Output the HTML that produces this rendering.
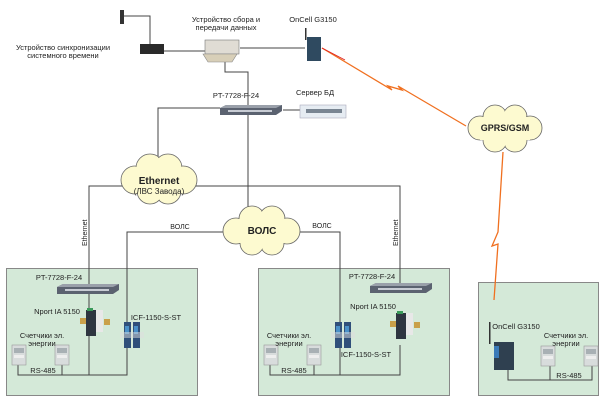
<!DOCTYPE html>
<html><head><meta charset="utf-8"><style>
html,body{margin:0;padding:0;background:#fff;width:600px;height:402px;overflow:hidden}
text{font-family:"Liberation Sans",sans-serif;fill:#222}
</style></head><body>
<svg width="600" height="402" viewBox="0 0 600 402" xmlns="http://www.w3.org/2000/svg">
<defs>
<g id="sw"><path d="M0,3 L6,0 L62,0 L62,6 L56,10 L0,10 Z" fill="#5b6270"/><path d="M0,3 L6,0 L62,0 L56,3 Z" fill="#9aa0aa"/><rect x="8" y="5" width="44" height="2" fill="#c8ccd4"/></g>
<g id="meter"><rect x="0" y="0" width="14" height="20" fill="#d8dcdc" stroke="#999" stroke-width="0.6"/><rect x="2" y="3" width="10" height="5" fill="#a8b0b4"/><rect x="2" y="10" width="10" height="3" fill="#eee"/></g>
<g id="icf"><rect x="0" y="0" width="7" height="26" fill="#2f4f7a"/><rect x="9" y="0" width="7" height="26" fill="#2f4f7a"/><rect x="1" y="4" width="4" height="8" fill="#4a90c8"/><rect x="10" y="4" width="4" height="8" fill="#4a90c8"/><rect x="-4" y="10" width="24" height="6" fill="#ddd" opacity="0.5"/></g>
<g id="nport"><rect x="4" y="0" width="10" height="26" fill="#2e3540"/><rect x="14" y="0" width="7" height="22" fill="#e8e8e8"/><rect x="-2" y="8" width="6" height="6" fill="#c9a04a"/><rect x="22" y="9" width="6" height="6" fill="#c9a04a"/><rect x="5" y="-2" width="6" height="3" fill="#3a9a5a"/></g>
</defs>

<!-- site boxes -->
<rect x="6.5" y="268.5" width="191" height="127" fill="#d4e9d8" stroke="#888"/>
<rect x="258.5" y="268.5" width="191" height="127" fill="#d4e9d8" stroke="#888"/>
<rect x="478.5" y="282.5" width="120" height="113" fill="#d4e9d8" stroke="#888"/>

<g stroke="#444" stroke-width="1" fill="none">
<path d="M122,16 L150,16 L150,46"/>
<path d="M163,51 L205,51"/>
<path d="M240,48 L305,48"/>
<path d="M225,62 L225,72 L248,72 L248,186"/>
<path d="M220,108 L158,108 L158,160"/>
<path d="M283,110 L300,110"/>
<path d="M89,375 L89,186 L400,186 L400,290"/>
<path d="M248,186 L248,212"/>
<path d="M127,325 L127,232 L225,232"/>
<path d="M298,232 L340,232 L340,325"/>
<!-- site1 bus -->
<path d="M18,365 L18,375 L127,375 L127,348"/>
<path d="M62,365 L62,375"/>
<path d="M89,293 L89,375"/>
<!-- site2 -->
<path d="M270,365 L270,375 L400,375 L400,345"/>
<path d="M314,365 L314,375"/>
<path d="M340,348 L340,375"/>
<!-- site3 -->
<path d="M508,370 L508,380 L592,380 L592,366"/>
<path d="M550,366 L550,380"/>
</g>

<!-- radio links -->
<g stroke="#f07020" stroke-width="1.3" fill="none">
<path d="M322,48 L392,90 L388,86 L402,90 L398,86 L466,126"/>
<path d="M503,152 L498,232 L492,246 L498,244 L494,300"/>
</g>
<path d="M322,48 L345,60" stroke="#e02020" stroke-width="0.8"/>

<!-- clouds -->
<g>
<g fill="#fdfad0" stroke="#666" stroke-width="0.8">
<circle cx="135" cy="180" r="14"/><circle cx="150" cy="168" r="14"/><circle cx="168" cy="168" r="14"/><circle cx="183" cy="180" r="14"/><circle cx="168" cy="191" r="13"/><circle cx="150" cy="191" r="13"/>
<circle cx="236" cy="231" r="13"/><circle cx="252" cy="219" r="13"/><circle cx="272" cy="219" r="13"/><circle cx="287" cy="231" r="13"/><circle cx="272" cy="243" r="12"/><circle cx="252" cy="243" r="12"/>
<circle cx="480" cy="128" r="12"/><circle cx="495" cy="117" r="12"/><circle cx="515" cy="117" r="12"/><circle cx="530" cy="128" r="12"/><circle cx="515" cy="140" r="12"/><circle cx="495" cy="140" r="12"/>
</g>
<g fill="#fdfad0">
<circle cx="135" cy="180" r="13.2"/><circle cx="150" cy="168" r="13.2"/><circle cx="168" cy="168" r="13.2"/><circle cx="183" cy="180" r="13.2"/><circle cx="168" cy="191" r="12.2"/><circle cx="150" cy="191" r="12.2"/><rect x="135" y="168" width="48" height="23"/>
<circle cx="236" cy="231" r="12.2"/><circle cx="252" cy="219" r="12.2"/><circle cx="272" cy="219" r="12.2"/><circle cx="287" cy="231" r="12.2"/><circle cx="272" cy="243" r="11.2"/><circle cx="252" cy="243" r="11.2"/><rect x="236" y="219" width="51" height="24"/>
<circle cx="480" cy="128" r="11.2"/><circle cx="495" cy="117" r="11.2"/><circle cx="515" cy="117" r="11.2"/><circle cx="530" cy="128" r="11.2"/><circle cx="515" cy="140" r="11.2"/><circle cx="495" cy="140" r="11.2"/><rect x="480" y="117" width="50" height="23"/>
</g>
</g>
<text x="159" y="184" font-size="10" font-weight="bold" text-anchor="middle">Ethernet</text>
<text x="159" y="194" font-size="8" text-anchor="middle">(ЛВС Завода)</text>
<text x="262" y="234" font-size="10" font-weight="bold" text-anchor="middle">ВОЛС</text>
<text x="505" y="131" font-size="9" font-weight="bold" text-anchor="middle">GPRS/GSM</text>

<!-- top devices -->
<rect x="120" y="10" width="4" height="14" fill="#333"/>
<rect x="140" y="44" width="24" height="10" fill="#2a2a2a"/>
<rect x="205" y="40" width="34" height="14" fill="#e0dcd4" stroke="#777" stroke-width="0.6"/>
<path d="M203,54 L237,54 L232,62 L208,62 Z" fill="#d8cfb8" stroke="#888" stroke-width="0.6"/>
<rect x="307" y="37" width="14" height="24" fill="#2f4a60"/><rect x="305" y="28" width="1.5" height="12" fill="#333"/>
<use href="#sw" x="220" y="105"/>
<rect x="300" y="105" width="46" height="13" fill="#e6ecf2" stroke="#aab" stroke-width="0.6"/>
<rect x="306" y="109" width="36" height="4" fill="#4a5a6a" opacity="0.7"/>

<text x="63" y="50" font-size="7.5" text-anchor="middle">Устройство синхронизации</text>
<text x="63" y="58" font-size="7.5" text-anchor="middle">системного времени</text>
<text x="226" y="22" font-size="7.5" text-anchor="middle">Устройство сбора и</text>
<text x="226" y="30" font-size="7.5" text-anchor="middle">передачи данных</text>
<text x="313" y="22" font-size="7.5" text-anchor="middle">OnCell G3150</text>
<text x="236" y="98" font-size="7.5" text-anchor="middle">PT-7728-F-24</text>
<text x="315" y="95" font-size="7.5" text-anchor="middle">Сервер БД</text>

<text x="180" y="229" font-size="7" text-anchor="middle">ВОЛС</text>
<text x="322" y="228" font-size="7" text-anchor="middle">ВОЛС</text>
<text transform="translate(87,246) rotate(-90)" font-size="7">Ethernet</text>
<text transform="translate(398,246) rotate(-90)" font-size="7">Ethernet</text>

<!-- site1 -->
<use href="#sw" x="57" y="284"/>
<use href="#nport" x="82" y="310"/>
<use href="#icf" x="124" y="322"/>
<use href="#meter" x="12" y="345"/>
<use href="#meter" x="55" y="345"/>
<text x="59" y="280" font-size="7.5" text-anchor="middle">PT-7728-F-24</text>
<text x="57" y="314" font-size="7.5" text-anchor="middle">Nport IA 5150</text>
<text x="156" y="320" font-size="7.5" text-anchor="middle">ICF-1150-S-ST</text>
<text x="42" y="338" font-size="7.5" text-anchor="middle">Счетчики эл.</text>
<text x="42" y="346" font-size="7.5" text-anchor="middle">энергии</text>
<text x="43" y="373" font-size="7.5" text-anchor="middle">RS-485</text>

<!-- site2 -->
<use href="#sw" x="370" y="283"/>
<use href="#nport" x="392" y="313"/>
<use href="#icf" x="335" y="322"/>
<use href="#meter" x="264" y="345"/>
<use href="#meter" x="307" y="345"/>
<text x="372" y="279" font-size="7.5" text-anchor="middle">PT-7728-F-24</text>
<text x="373" y="309" font-size="7.5" text-anchor="middle">Nport IA 5150</text>
<text x="366" y="357" font-size="7.5" text-anchor="middle">ICF-1150-S-ST</text>
<text x="289" y="338" font-size="7.5" text-anchor="middle">Счетчики эл.</text>
<text x="289" y="346" font-size="7.5" text-anchor="middle">энергии</text>
<text x="294" y="373" font-size="7.5" text-anchor="middle">RS-485</text>

<!-- site3 -->
<rect x="491" y="335" width="6" height="12" fill="#333" opacity="0"/>
<rect x="489" y="322" width="1.5" height="22" fill="#333"/>
<rect x="494" y="342" width="20" height="28" fill="#2f4050"/>
<rect x="494" y="346" width="5" height="12" fill="#3a7ab8"/>
<use href="#meter" x="541" y="346"/>
<use href="#meter" x="584" y="346" />
<text x="516" y="329" font-size="7.5" text-anchor="middle">OnCell G3150</text>
<text x="566" y="338" font-size="7.5" text-anchor="middle">Счетчики эл.</text>
<text x="566" y="346" font-size="7.5" text-anchor="middle">энергии</text>
<text x="569" y="378" font-size="7.5" text-anchor="middle">RS-485</text>
</svg>
</body></html>
